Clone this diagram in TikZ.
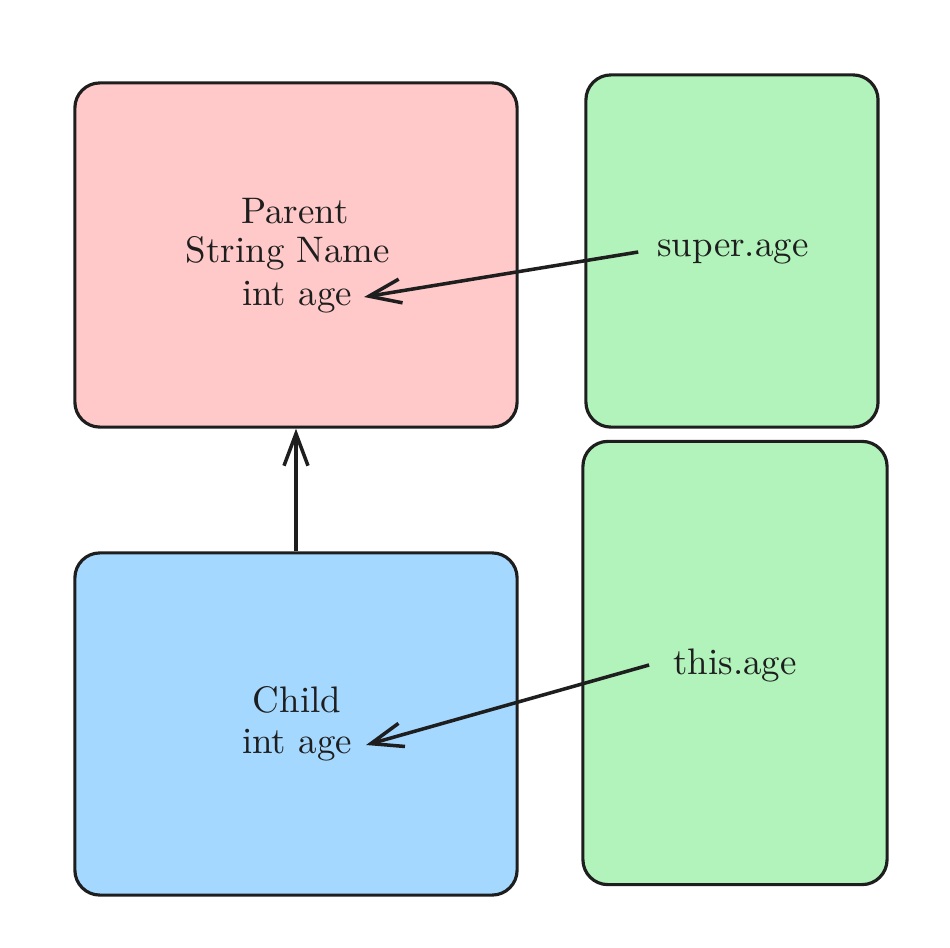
\documentclass[tikz,border=0pt]{standalone}
\usetikzlibrary{positioning,arrows.meta}
\usepackage{xcolor}
\definecolor{parentfill}{HTML}{FFC9C9}
\definecolor{childfill}{HTML}{A5D8FF}
\definecolor{refill}{HTML}{B2F2BB}
\definecolor{ink}{HTML}{1E1E1E}

\begin{document}
\begin{tikzpicture}[x=0.01cm,y=-0.01cm,
    box/.style={draw=ink,line width=0.9pt,rounded corners=0.25cm,inner sep=0pt},
    lbl/.style={inner sep=1pt,text=ink,font=\fontsize{10.5}{12.2}\selectfont},
    link/.style={-{Straight Barb[length=3.2mm,width=2.4mm]},draw=ink,line width=1pt}]
            \useasboundingbox (0,0) rectangle (950,948);
            \node [box,fill=parentfill,minimum width=4.42cm,minimum height=3.44cm] (parent) at (296,255) {};
            \node [box,fill=refill,minimum width=2.92cm,minimum height=3.52cm] (supbox) at (732,251) {};
            \node [box,fill=childfill,minimum width=4.42cm,minimum height=3.42cm] (child) at (296,724) {};
            \node [box,fill=refill,minimum width=3.04cm,minimum height=4.43cm] (thisbox) at (735,663) {};

            \node [lbl] (parentname) at (295,211) {Parent};
            \node [lbl] (parentstr) at (288,253) {String Name};
            \node [lbl] (parentage) at (297,297) {int age};
            \node [lbl] (superage) at (733,252) {super.age};
            \node [lbl] (thisage) at (735,665) {this.age};
            \node [lbl] (childname) at (297,700) {Child};
            \node [lbl] (childage) at (297,745) {int age};

            \draw [link] (child.north) -- (parent.south);
            \draw [link] ([xshift=-0.15cm]superage.west) -- ([xshift=0.08cm]parentage.east);
            \draw [link] ([xshift=-0.2cm]thisage.west) -- ([xshift=0.1cm]childage.east);
        \end{tikzpicture}
\end{document}
